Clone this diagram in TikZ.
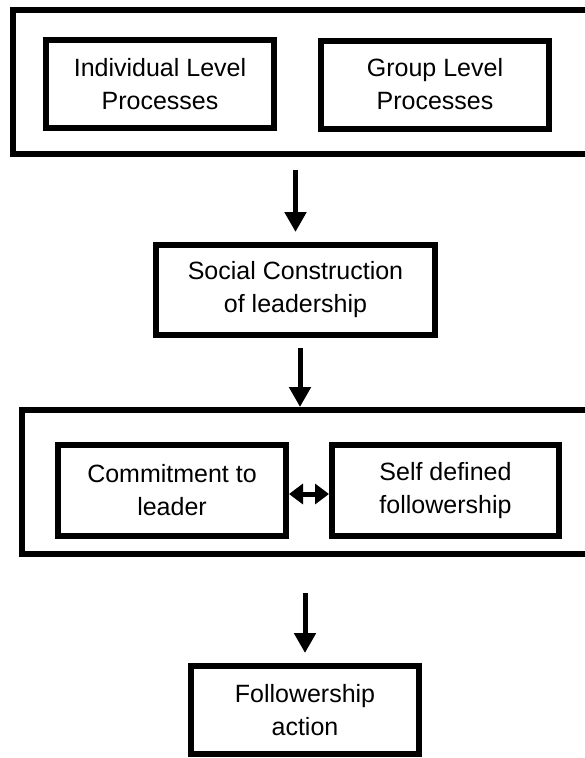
\documentclass[tikz,border=0pt]{standalone}
\usepackage{fontspec}
\setmainfont{Liberation Sans}
\usetikzlibrary{arrows.meta}

\begin{document}
\begin{tikzpicture}[x = 1pt, y = -1pt,
	box/.style = {draw, line width = 6pt, minimum width = 228pt, minimum height = 88pt,
		inner sep = 0pt, align = center, font = \fontsize{25}{33}\selectfont},
	frame/.style = {draw, line width = 6pt, minimum width = 587pt, minimum height = 144pt},
	flow/.style = {line width = 5pt, -{Triangle[width = 21pt, length = 20pt]}},
	pair/.style = {line width = 5pt, {Triangle[width = 20pt, length = 14pt]}-{Triangle[width = 20pt, length = 14pt]}}]
	\useasboundingbox (0,0) rectangle (585,758);
	
	\node[frame] (levels) at (306.5,82) {};
	\node[box] (indiv) at (160,84) {Individual Level\\Processes};
	\node[box] (group) at (435,84.5) {Group Level\\Processes};
	
	\node[box, minimum width = 279pt, minimum height = 90pt] (social) at (295.5,290) {Social Construction\\of leadership};
	
	\node[frame, minimum width = 578pt] (bond) at (311,482) {};
	\node[box, minimum height = 91pt] (commit) at (172,490.5) {Commitment to\\leader};
	\node[box, minimum width = 227pt, minimum height = 91pt] (self) at (445.5,490.5) {Self defined\\followership};
	
	\node[box] (action) at (305,710) {Followership\\action};
	
	\draw[flow, shorten <= 13pt, shorten >= 10pt] (levels.south -| social.north) -- (social.north);
	\draw[flow, shorten <= 10pt] ([xshift = 4.5pt]social.south) -- ([xshift = 4.5pt]social.south |- bond.north);
	\draw[pair] ([yshift = -3.5pt]commit.east) -- ([yshift = -3.5pt]self.west);
	\draw[flow, shorten <= 36pt, shorten >= 10pt] (bond.south -| action.north) -- (action.north);
\end{tikzpicture}
\end{document}
